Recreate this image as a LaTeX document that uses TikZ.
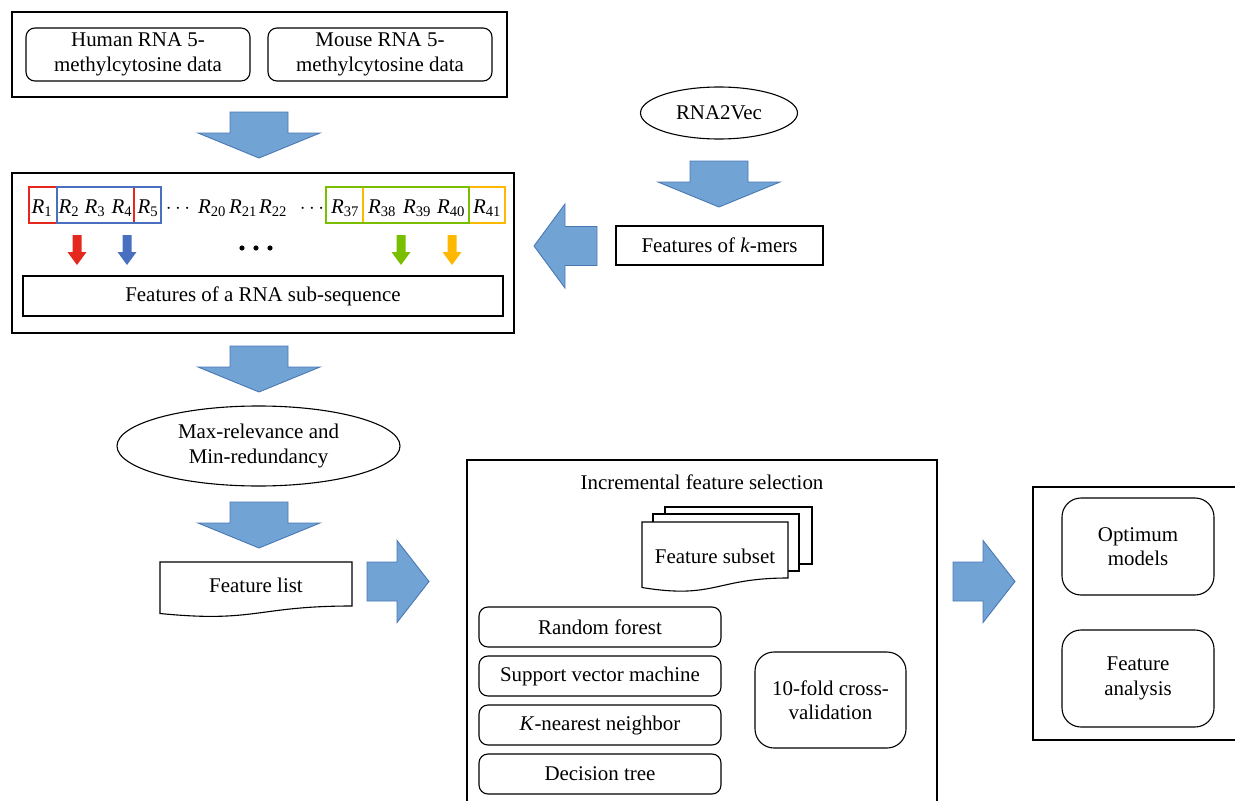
\documentclass[tikz,border=0pt]{standalone}
\usepackage{fontspec}
\setmainfont{Liberation Serif}
\usetikzlibrary{shapes.geometric}
\definecolor{arrfill}{RGB}{114,163,213}
\definecolor{arrdraw}{RGB}{74,120,180}
\definecolor{cred}{RGB}{228,40,30}
\definecolor{cblue}{RGB}{72,112,190}
\definecolor{cgreen}{RGB}{122,190,0}
\definecolor{corange}{RGB}{255,184,0}
\newcommand\Rsub[1]{\textit{R}\textsubscript{#1}}
\newcommand\dnblock[2]{\draw[blockarrow] (#1-29,#2) -- (#1+29,#2) -- (#1+29,#2+21) -- (#1+61,#2+21) -- (#1,#2+46) -- (#1-61,#2+21) -- (#1-29,#2+21) -- cycle;}
\newcommand\rtblock[2]{\draw[blockarrow] (#1,#2-19.5) -- (#1+30,#2-19.5) -- (#1+30,#2-41) -- (#1+62,#2) -- (#1+30,#2+41) -- (#1+30,#2+19.5) -- (#1,#2+19.5) -- cycle;}
\newcommand\smallarr[2]{\fill[#2] (#1-4.5,235) -- (#1+4.5,235) -- (#1+4.5,252) -- (#1+9.5,252) -- (#1,265) -- (#1-9.5,252) -- (#1-4.5,252) -- cycle;}
\begin{document}
\begin{tikzpicture}[x=1bp,y=-1bp,line width=1.1bp,
  font=\fontsize{21}{24.5}\selectfont,
  box/.style={draw, rectangle, inner sep=0pt, align=center},
  rbox/.style={box, rounded corners=9bp},
  bigrbox/.style={box, rounded corners=19bp},
  txt/.style={inner sep=0pt, align=center},
  oval/.style={draw, ellipse, inner sep=0pt, align=center},
  blockarrow/.style={fill=arrfill, draw=arrdraw, line width=0.9bp},
  cbox/.style={draw=#1, line width=1.4bp},
  rlab/.style={inner sep=0pt, anchor=base}]
\useasboundingbox (0,0) rectangle (1235,801);

% top container
\node[box, minimum width=495bp, minimum height=85bp] (topbox) at (259.5,54.5) {};
\node[rbox, minimum width=224bp, minimum height=53bp] (human) at (138,54.5) {Human RNA 5-\\methylcytosine data};
\node[rbox, minimum width=224bp, minimum height=53bp] (mouse) at (380,54.5) {Mouse RNA 5-\\methylcytosine data};

\dnblock{259}{112}

% second container
\node[box, minimum width=502bp, minimum height=160bp] (seqbox) at (263,253) {};
\draw[cbox=cred] (29,187) rectangle (134,223);
\draw[cbox=cblue] (57,187) rectangle (161,223);
\draw[cbox=corange] (363,187) rectangle (505,223);
\draw[cbox=cgreen] (326,187) rectangle (469,223);
\node[rlab] (r1) at (42,213) {\Rsub{1}};
\node[rlab] (r2) at (69,213) {\Rsub{2}};
\node[rlab] (r3) at (95,213) {\Rsub{3}};
\node[rlab] (r4) at (122,213) {\Rsub{4}};
\node[rlab] (r5) at (148,213) {\Rsub{5}};
\node[rlab] (d1) at (178,213) {$\cdots$};
\node[rlab] (r20) at (212,213) {\Rsub{20}};
\node[rlab] (r21) at (243,213) {\Rsub{21}};
\node[rlab] (r22) at (273,213) {\Rsub{22}};
\node[rlab] (d2) at (312,213) {$\cdots$};
\node[rlab] (r37) at (345,213) {\Rsub{37}};
\node[rlab] (r38) at (382,213) {\Rsub{38}};
\node[rlab] (r39) at (417,213) {\Rsub{39}};
\node[rlab] (r40) at (451,213) {\Rsub{40}};
\node[rlab] (r41) at (487,213) {\Rsub{41}};
\smallarr{77}{cred}
\smallarr{127}{cblue}
\smallarr{401}{cgreen}
\smallarr{452}{corange}
\fill (242,248) circle (2.6) (256,248) circle (2.6) (270,248) circle (2.6);
\node[box, minimum width=480bp, minimum height=40bp] (featseq) at (263,296) {Features of a RNA sub-sequence};

% RNA2Vec branch
\node[oval, minimum width=157bp, minimum height=52bp] (rna2vec) at (719,113) {RNA2Vec};
\dnblock{719}{161}
\node[box, minimum width=207bp, minimum height=39bp] (kmers) at (719.5,245.5) {Features of \textit{k}-mers};
\draw[blockarrow] (534,246) -- (565,204) -- (565,226.5) -- (597,226.5) -- (597,265.5) -- (565,265.5) -- (565,288) -- cycle;

\dnblock{259}{346}
\node[oval, minimum width=283bp, minimum height=80bp] (mrmr) at (258.5,446) {Max-relevance and\\Min-redundancy};
\dnblock{259}{502}

% feature list document
\draw[fill=white] (160,562) -- (352,562) -- (352,606) .. controls (256,606) and (256,623) .. (160,613.5) -- cycle;
\node[txt] (flist) at (256,585) {Feature list};
\rtblock{367}{581.5}

% incremental feature selection
\draw (467,801) -- (467,460) -- (937,460) -- (937,801);
\node[txt] (ifs) at (702,482) {Incremental feature selection};
\draw[fill=white] (665,507) rectangle (812,564);
\draw[fill=white] (653,514) rectangle (799,571);
\draw[fill=white] (642,522) -- (788,522) -- (788,578) .. controls (715,578) and (715,599.5) .. (642,587.5) -- cycle;
\node[txt] (fsub) at (715,556) {Feature subset};
\node[rbox, minimum width=242bp, minimum height=40bp] (rf) at (600,627) {Random forest};
\node[rbox, minimum width=242bp, minimum height=40bp] (svm) at (600,676) {Support vector machine};
\node[rbox, minimum width=242bp, minimum height=40bp] (knn) at (600,725) {\textit{K}-nearest neighbor};
\node[rbox, minimum width=242bp, minimum height=40bp] (dt) at (600,774) {Decision tree};
\node[bigrbox, minimum width=151bp, minimum height=96bp] (cv) at (830.5,700) {10-fold cross-\\validation};

\rtblock{953}{581.5}

% results
\draw (1235,487) -- (1033,487) -- (1033,740) -- (1235,740);
\node[bigrbox, minimum width=152bp, minimum height=97bp] (opt) at (1138,546.5) {Optimum\\models};
\node[bigrbox, minimum width=152bp, minimum height=97bp] (fana) at (1138,678.5) {Feature\\analysis};
\end{tikzpicture}
\end{document}
